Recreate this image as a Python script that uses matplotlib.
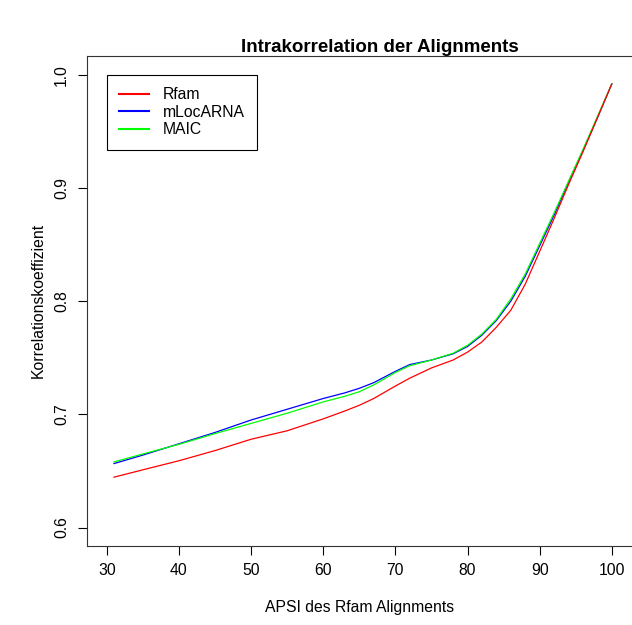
import numpy as np
import matplotlib
matplotlib.use("Agg")
import matplotlib.pyplot as plt

plt.rcParams['font.family'] = ['Liberation Sans', 'DejaVu Sans']

# APSI-Werte (x) und geglaettete Korrelationskoeffizienten
apsi = [31, 35, 40, 45, 50, 55, 60, 63, 65, 67, 70, 72, 75, 78, 80, 82, 84, 86, 88, 90, 92, 94, 96, 98, 100]
rfam = [0.6445, 0.651, 0.659, 0.668, 0.678, 0.6855, 0.696, 0.703, 0.708, 0.714, 0.725, 0.732,
        0.741, 0.748, 0.755, 0.764, 0.777, 0.792, 0.815, 0.844, 0.873, 0.903, 0.932, 0.962, 0.992]
mlocarna = [0.6565, 0.664, 0.674, 0.684, 0.695, 0.7045, 0.714, 0.719, 0.723, 0.728, 0.738, 0.744,
            0.748, 0.7535, 0.760, 0.770, 0.783, 0.800, 0.822, 0.849, 0.876, 0.905, 0.933, 0.962, 0.992]
maic = [0.658, 0.665, 0.6735, 0.683, 0.692, 0.701, 0.711, 0.716, 0.720, 0.726, 0.737, 0.743,
        0.748, 0.754, 0.761, 0.771, 0.784, 0.802, 0.824, 0.851, 0.878, 0.906, 0.934, 0.963, 0.992]

xticks = [30, 40, 50, 60, 70, 80, 90, 100]
yticks = [0.6, 0.7, 0.8, 0.9, 1.0]

fs = 11.3

fig = plt.figure(figsize=(6.32, 6.25), dpi=100)
ax = fig.add_axes([0.137, 0.127, 0.863, 0.784])

ax.plot(apsi, mlocarna, color='#0000FF', lw=0.9, label='mLocARNA')
ax.plot(apsi, maic, color='#00FF00', lw=0.9, label='MAIC')
ax.plot(apsi, rfam, color='#FF0000', lw=0.9, label='Rfam')

ax.set_xlim(27.2, 102.8)
ax.set_ylim(0.584, 1.017)
ax.set_xticks(xticks)
ax.set_xticklabels([str(t) for t in xticks])
ax.set_yticks(yticks)
ax.set_yticklabels(['%.1f' % t for t in yticks], rotation=90, va='center')
ax.tick_params(direction='out', length=6.7, width=0.8, labelsize=fs, pad=6)
ax.spines['right'].set_visible(False)
for s in ['left', 'bottom', 'top']:
    ax.spines[s].set_linewidth(0.8)
    ax.spines[s].set_color('#333333')

ax.set_xlabel('APSI des Rfam Alignments', fontsize=fs, va='center')
ax.set_ylabel('Korrelationskoeffizient', fontsize=fs, va='center')
ax.xaxis.set_label_coords(0.5, -0.127)
ax.yaxis.set_label_coords(-0.089, 0.5)
fig.text(0.601, 1 - 48 / 625, 'Intrakorrelation der Alignments', fontsize=13.5,
         fontweight='bold', ha='center', va='center')

h, l = ax.get_legend_handles_labels()
order = [2, 0, 1]
leg = ax.legend([h[i] for i in order], [l[i] for i in order],
                loc='upper left', bbox_to_anchor=(30, 1.0), bbox_transform=ax.transData,
                borderaxespad=0, fancybox=False, fontsize=fs, handlelength=1.9,
                handletextpad=0.85, labelspacing=0.15, borderpad=0.8, framealpha=1)
leg.get_frame().set_edgecolor('black')
leg.get_frame().set_linewidth(0.8)
for ln in leg.get_lines():
    ln.set_linewidth(1.5)

fig.savefig('out.png', dpi=100)
